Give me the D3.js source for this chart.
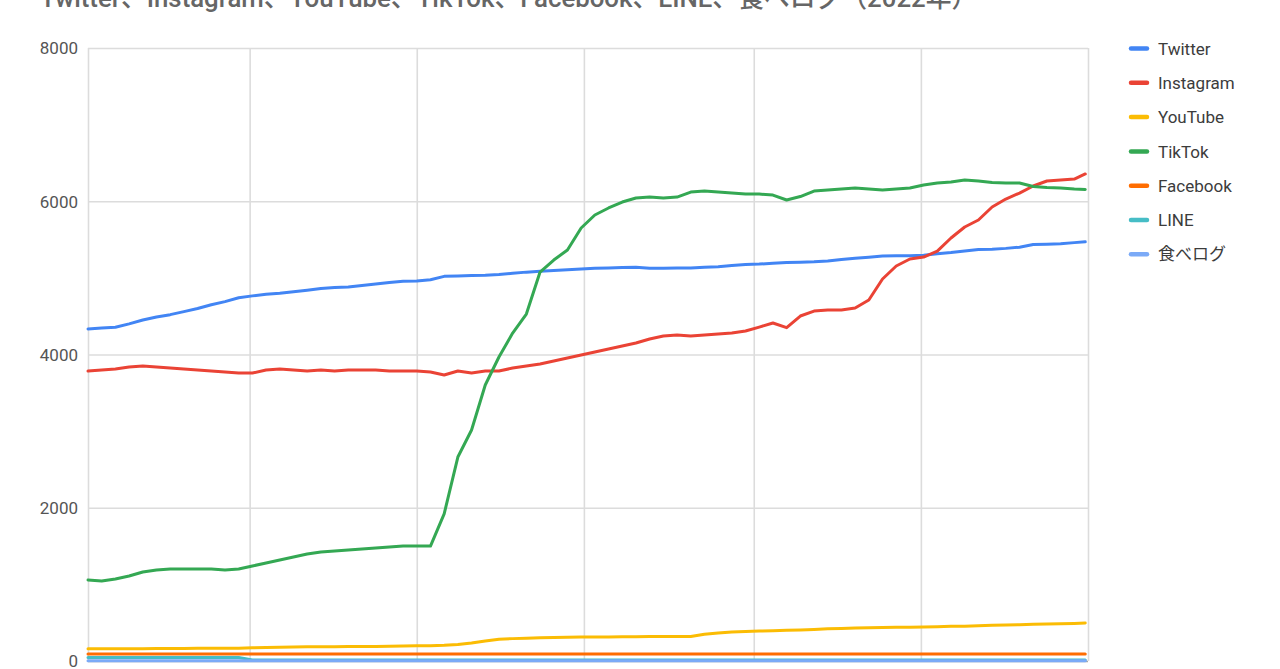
<!DOCTYPE html>
<html><head><meta charset="utf-8">
<script src="https://cdn.jsdelivr.net/npm/d3@7"></script>
<style>
body{margin:0;background:#fff;}
svg{display:block;font-family:Roboto,"Noto Sans CJK JP",sans-serif;}
</style>
</head><body>
<svg id="chart" width="1280" height="669"></svg>
<script>
const chartTitle = "Twitter、Instagram、YouTube、TikTok、Facebook、LINE、食べログ（2022年）";
// day offsets from 2022-01-01
const days = [0,5,10,15,20,25,30,35,40,45,50,55,60,65,70,75,80,85,90,95,100,105,110,115,120,125,130,135,140,145,150,155,160,165,170,175,180,185,190,195,200,205,210,215,220,225,230,235,240,245,250,255,260,265,270,275,280,285,290,295,300,305,310,315,320,325,330,335,340,345,350,355,360,364];
const seriesNames = ["Twitter","Instagram","YouTube","TikTok","Facebook","LINE","食べログ"];
const seriesColors = ["#4285F4","#EA4335","#FBBC04","#34A853","#FF6D01","#46BDC6","#7BAAF7"];
const twitter = [4333,4345,4355,4400,4450,4490,4520,4560,4600,4650,4690,4740,4765,4785,4800,4820,4840,4860,4875,4880,4900,4920,4940,4955,4960,4975,5020,5025,5030,5035,5045,5060,5075,5085,5095,5105,5115,5125,5130,5135,5140,5125,5125,5130,5130,5140,5145,5160,5175,5180,5190,5200,5205,5210,5220,5240,5255,5270,5285,5290,5290,5295,5315,5330,5350,5370,5375,5385,5400,5435,5440,5445,5460,5470];
const instagram = [3784,3797,3810,3836,3849,3836,3823,3810,3797,3784,3771,3758,3758,3797,3810,3797,3784,3797,3784,3797,3797,3797,3784,3784,3784,3771,3732,3784,3758,3784,3784,3823,3849,3876,3915,3954,3993,4032,4072,4111,4150,4202,4241,4254,4241,4254,4267,4280,4306,4358,4411,4350,4502,4567,4580,4580,4606,4711,4985,5155,5246,5272,5350,5520,5664,5755,5925,6029,6107,6199,6264,6277,6290,6356];
const youtube = [160,160,160,160,160,162,163,164,165,166,167,168,172,176,180,183,185,186,187,188,189,190,192,196,198,200,205,215,235,262,285,292,298,302,306,310,313,313,313,315,318,320,320,320,320,350,365,378,385,390,395,400,405,412,420,425,430,433,436,440,442,445,448,452,455,460,465,470,474,478,482,486,490,495];
const tiktok = [1057,1044,1070,1109,1161,1188,1201,1201,1201,1201,1188,1201,1240,1279,1318,1357,1396,1423,1436,1449,1462,1475,1488,1501,1501,1500,1920,2662,3015,3602,3967,4280,4528,5076,5233,5364,5651,5821,5912,5990,6042,6055,6042,6055,6120,6133,6120,6107,6094,6094,6081,6016,6061,6133,6146,6159,6172,6159,6146,6159,6172,6212,6238,6251,6277,6264,6245,6238,6238,6192,6179,6172,6159,6153];
const facebook = [90,90,90,90,90,90,90,90,90,90,90,90,90,90,90,90,90,90,90,90,90,90,90,90,90,90,90,90,90,90,90,90,90,90,90,90,90,90,90,90,90,90,90,90,90,90,90,90,90,90,90,90,90,90,90,90,92,92,92,92,92,92,92,92,92,92,92,92,92,92,92,92,92,92];
const line = [45,45,45,45,45,45,45,45,45,45,45,45,12,12,12,12,12,12,12,12,12,12,12,12,12,12,12,12,12,12,12,12,12,12,12,12,12,12,12,12,12,12,12,12,12,12,12,12,12,12,12,12,12,12,12,12,12,12,12,12,12,12,12,12,12,12,12,12,12,12,12,12,12,12];
const tabelog = [3,3,3,3,3,3,3,3,3,3,3,3,3,3,3,3,3,3,3,3,3,3,3,3,3,3,3,3,3,3,3,3,3,3,3,3,3,3,3,3,3,3,3,3,3,3,3,3,3,3,3,3,3,3,3,3,3,3,3,3,3,3,3,3,3,3,3,3,3,3,3,3,3,3];
const yTicks = [0,2000,4000,6000,8000];

const seriesValues = [twitter,instagram,youtube,tiktok,facebook,line,tabelog];
const startDate = new Date(2022,0,1), endDate = new Date(2023,0,1);
const dates = days.map(d => d3.timeDay.offset(startDate, d));

const svg = d3.select("#chart");
const L = 88, R = 1088, T = 48, B = 661;
const x = d3.scaleTime().domain([startDate, endDate]).range([L, R]);
const y = d3.scaleLinear().domain([0, 8000]).range([B, T]);

// title
const tt = svg.append("text").attr("x", 40).attr("y", 7)
  .attr("fill", "#666").style("font-weight", 500).style("font-size", "24px").text(chartTitle);
const w = tt.node().getComputedTextLength();
tt.style("font-size", (24 * 938 / w) + "px");

// vertical grid
const gx = svg.append("g").attr("transform", `translate(0,${B})`)
  .call(d3.axisBottom(x).ticks(d3.timeMonth.every(2)).tickSize(-(B - T)).tickFormat(""));
gx.select(".domain").remove();
gx.selectAll("line").attr("stroke", "#dcdcdc").attr("stroke-width", 1.6);

// horizontal grid + labels
const gy = svg.append("g").attr("transform", `translate(${L},0)`)
  .call(d3.axisLeft(y).tickValues(yTicks).tickSize(-(R - L)).tickPadding(10).tickFormat(d3.format("d")));
gy.select(".domain").remove();
gy.selectAll("line").attr("stroke", d => d === 0 ? "#a8a8a8" : "#dcdcdc").attr("stroke-width", 1.6);
gy.selectAll("text").attr("fill", "#555").style("font-size", "17px")
  .style("font-family", "Roboto, sans-serif").attr("dy", d => d === 0 ? "0.3em" : "0.35em");

// lines
const lineGen = d3.line().x((d, i) => x(dates[i])).y(d => y(d)).curve(d3.curveLinear);
seriesValues.forEach((vals, k) => {
  svg.append("path").datum(vals)
    .attr("fill", "none").attr("stroke", seriesColors[k]).attr("stroke-width", 3)
    .attr("stroke-linejoin", "round").attr("stroke-linecap", "round")
    .attr("d", lineGen);
});

// legend
const lg = svg.append("g");
seriesNames.forEach((n, k) => {
  const yy = 48.5 + k * 34.3;
  lg.append("line").attr("x1", 1131).attr("x2", 1147).attr("y1", yy).attr("y2", yy)
    .attr("stroke", seriesColors[k]).attr("stroke-width", 4.5).attr("stroke-linecap", "round");
  lg.append("text").attr("x", 1158).attr("y", yy).attr("dy", "0.36em")
    .attr("fill", "#3c3c3c").style("font-size", "17px").text(n);
});
</script>
</body></html>
